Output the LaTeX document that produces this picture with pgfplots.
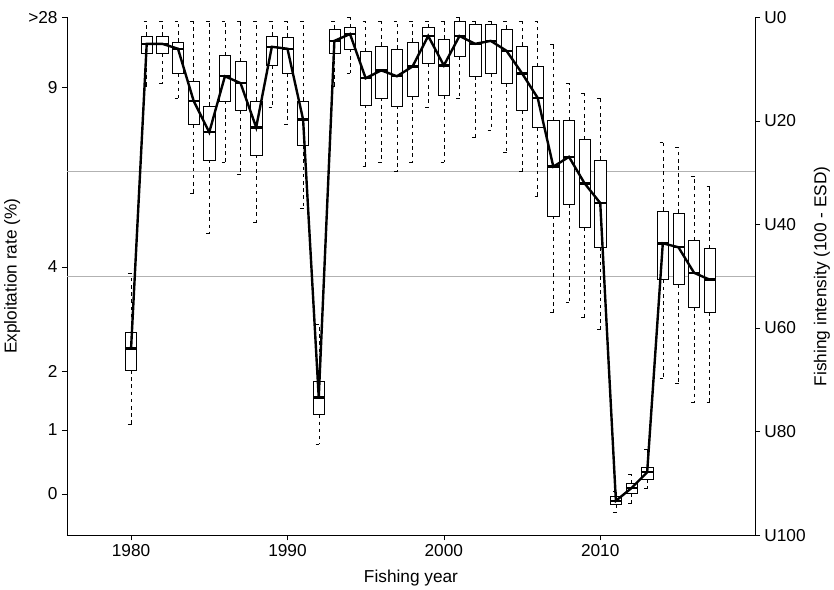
\documentclass[border=0pt]{standalone}
\usepackage{pgfplots}
\pgfplotsset{compat=1.18}
\usepgfplotslibrary{statistics}
\usepackage{fontspec}
\setmainfont{Liberation Sans}
\pgfplotstableread{
yr med
0 355
1 45
2 45
3 50
4 103
5 135
6 78
7 85
8 130
9 48
10 50
11 122
12 405
13 42
14 35
15 80
16 72
17 78
18 68
19 37
20 67
21 37
22 45
23 42
24 52
25 75
26 100
27 170
28 160
29 187
30 207
31 510
32 497
33 481
34 248
35 252
36 278
37 285
}\data
\newcommand\bx[6]{\addplot[black, fill=white, boxplot/draw direction=y, boxplot prepared={draw position=#1, median=#2, lower quartile=#3, upper quartile=#4, lower whisker=#5, upper whisker=#6, box extend=0.72, whisker extend=0.4, every whisker/.style={dashed}, every median/.style={line width=2pt}}] coordinates {};}
\begin{document}
\begin{tikzpicture}
\begin{axis}[scale only axis, width=574pt, height=432pt,
  xmin=-4.1, xmax=39.9, ymin=18, ymax=545, y dir=reverse,
  xtick={0,10,20,30}, xticklabels={1980,1990,2000,2010},
  ytick={18,89,272,378,438,503}, yticklabels={>28,9,4,2,1,0},
  axis y line*=left, axis x line*=bottom,
  tick style={black}, tick align=outside,
  xlabel={Fishing year}, ylabel={Exploitation rate (\%)},
  xlabel style={yshift=-4pt},
  /pgf/number format/assume math mode=true,
  ticklabel style={font=\Large}, label style={font=\Large}]
\addplot[gray!60, thin] coordinates {(-4.1,175) (39.9,175)};
\addplot[gray!60, thin] coordinates {(-4.1,281) (39.9,281)};
\bx{0}{355}{338}{377}{278}{432}
\bx{1}{45}{37}{55}{22}{88}
\bx{2}{45}{37}{55}{22}{85}
\bx{3}{50}{43}{75}{22}{100}
\bx{4}{103}{83}{127}{22}{197}
\bx{5}{135}{108}{163}{22}{238}
\bx{6}{78}{57}{103}{22}{165}
\bx{7}{85}{63}{113}{22}{178}
\bx{8}{130}{103}{158}{22}{227}
\bx{9}{48}{37}{67}{22}{110}
\bx{10}{50}{38}{75}{22}{127}
\bx{11}{122}{103}{148}{22}{212}
\bx{12}{405}{388}{422}{330}{452}
\bx{13}{42}{30}{55}{22}{88}
\bx{14}{35}{28}{50}{18}{75}
\bx{15}{80}{53}{107}{22}{170}
\bx{16}{72}{47}{100}{22}{165}
\bx{17}{78}{50}{108}{22}{175}
\bx{18}{68}{43}{98}{22}{165}
\bx{19}{37}{28}{65}{22}{110}
\bx{20}{67}{40}{97}{22}{165}
\bx{21}{37}{22}{58}{18}{100}
\bx{22}{45}{25}{78}{22}{140}
\bx{23}{42}{25}{75}{22}{133}
\bx{24}{52}{30}{85}{22}{155}
\bx{25}{75}{47}{113}{22}{175}
\bx{26}{100}{68}{130}{22}{200}
\bx{27}{170}{123}{220}{45}{318}
\bx{28}{160}{123}{208}{85}{308}
\bx{29}{187}{142}{232}{95}{323}
\bx{30}{207}{163}{252}{100}{335}
\bx{31}{510}{505}{514}{500}{522}
\bx{32}{497}{492}{502}{483}{512}
\bx{33}{481}{476}{488}{458}{497}
\bx{34}{248}{215}{285}{145}{385}
\bx{35}{252}{217}{290}{150}{390}
\bx{36}{278}{245}{313}{180}{410}
\bx{37}{285}{253}{318}{190}{410}
\addplot[black, line width=2pt] table[x=yr, y=med] {\data};
\end{axis}
\begin{axis}[scale only axis, width=574pt, height=432pt,
  xmin=-4.1, xmax=39.9, ymin=0, ymax=100, y dir=reverse,
  axis y line*=right, axis x line=none,
  ytick={0,20,...,100}, yticklabel={U\pgfmathprintnumber{\tick}},
  ylabel={Fishing intensity (100 - ESD)},
  /pgf/number format/assume math mode=true,
  tick style={black}, tick align=outside,
  ticklabel style={font=\Large}, label style={font=\Large}]
\end{axis}
\path ([yshift=6pt]current bounding box.north) ++(0,0);
\end{tikzpicture}
\end{document}
